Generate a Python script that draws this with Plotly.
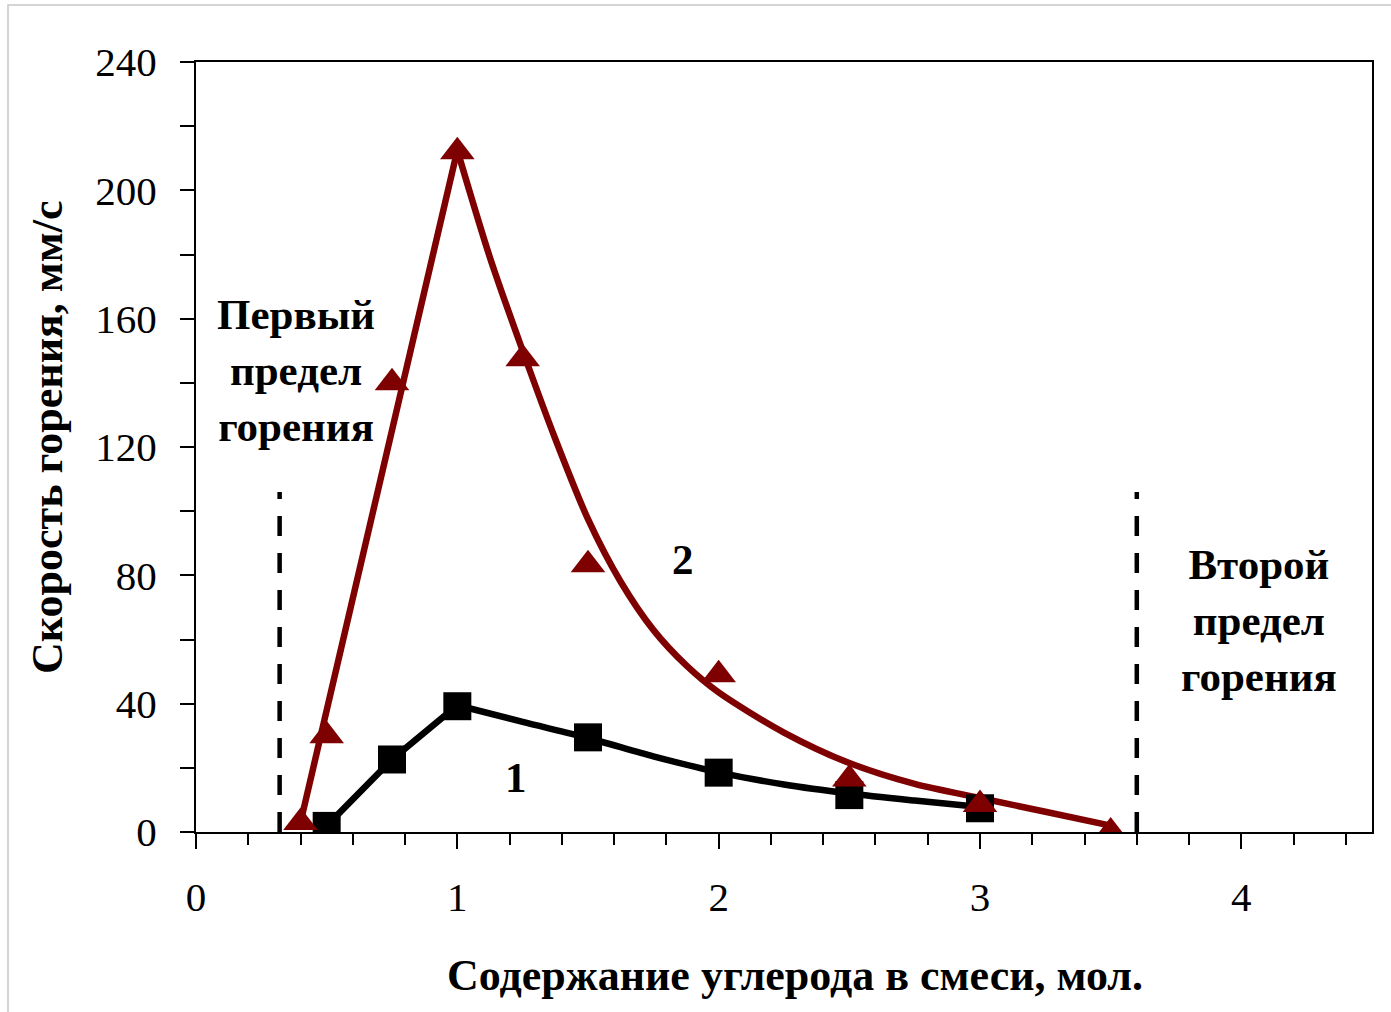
import plotly.graph_objects as go

# ---- data ----
x_sq = [0.5, 0.75, 1.0, 1.5, 2.0, 2.5, 3.0]
y_sq = [1.9, 22.6, 39.2, 29.5, 18.5, 11.5, 7.4]

x_tri = [0.4, 0.5, 0.75, 1.0, 1.25, 1.5, 2.0, 2.5, 3.0, 3.5]
y_tri = [3.0, 30.0, 140.0, 212.0, 147.5, 83.3, 49.0, 16.5, 8.6, 0.0]

# fitted curve 1 (black): rising part and decaying part
x_rise1 = [0.5, 0.75, 1.0]
y_rise1 = [1.9, 22.6, 39.5]
x_fall1 = [1.0, 1.25, 1.5, 1.75, 2.0, 2.25, 2.5, 2.75, 3.0]
y_fall1 = [39.5, 34.3, 29.3, 23.6, 18.6, 14.8, 12.0, 9.8, 7.8]

# fitted curve 2 (dark red): rising part and decaying part
x_rise2 = [0.4, 1.0]
y_rise2 = [3.0, 212.5]
x_fall2 = [1.0, 1.125, 1.25, 1.375, 1.5, 1.625, 1.75, 1.875, 2.0, 2.25, 2.5, 2.75, 3.0, 3.25, 3.5]
y_fall2 = [212.5, 179, 150, 122.5, 97.5, 78, 63, 52, 43.5, 31, 21.5, 15, 10.6, 6.3, 2.0]

limit_x = [0.32, 3.6]
limit_y_top = 106

x_tick_vals = [0, 1, 2, 3, 4]
y_tick_vals = [0, 40, 80, 120, 160, 200, 240]

DARKRED = "#7f0000"
SERIF = "Liberation Serif"

fig = go.Figure()

# dashed limit lines
for xv in limit_x:
    fig.add_trace(go.Scatter(x=[xv, xv], y=[0, limit_y_top], mode="lines",
                             line=dict(color="black", width=4.5, dash="20px,17px"),
                             hoverinfo="skip", showlegend=False))

# curves
fig.add_trace(go.Scatter(x=x_rise2, y=y_rise2, mode="lines",
                         line=dict(color=DARKRED, width=6.5), showlegend=False))
fig.add_trace(go.Scatter(x=x_fall2, y=y_fall2, mode="lines",
                         line=dict(color=DARKRED, width=6.5, shape="spline", smoothing=0.8),
                         showlegend=False))
fig.add_trace(go.Scatter(x=x_rise1, y=y_rise1, mode="lines",
                         line=dict(color="black", width=6.5), showlegend=False))
fig.add_trace(go.Scatter(x=x_fall1, y=y_fall1, mode="lines",
                         line=dict(color="black", width=6.5, shape="spline", smoothing=0.8),
                         showlegend=False))

# markers
fig.add_trace(go.Scatter(x=x_sq, y=y_sq, mode="markers",
                         marker=dict(symbol="square", size=28, color="black"),
                         showlegend=False))
fig.add_trace(go.Scatter(x=x_tri, y=y_tri, mode="markers",
                         marker=dict(symbol="triangle-up", size=30, color=DARKRED),
                         showlegend=False))

fig.update_xaxes(range=[0, 4.5], tickvals=x_tick_vals, ticks="outside", ticklen=15,
                 tickwidth=2, tickcolor="black",
                 minor=dict(dtick=0.2, tick0=0, ticks="outside", ticklen=11, tickwidth=2, tickcolor="black"),
                 showline=True, linecolor="black", linewidth=2, mirror=True,
                 showgrid=False, zeroline=False,
                 tickfont=dict(family=SERIF, size=41, color="black"),
                 ticklabelstandoff=13)
fig.update_yaxes(range=[0, 240], tickvals=y_tick_vals, ticks="outside", ticklen=14,
                 tickwidth=2, tickcolor="black",
                 minor=dict(dtick=20, tick0=0, ticks="outside", ticklen=14, tickwidth=2, tickcolor="black"),
                 showline=True, linecolor="black", linewidth=2, mirror=True,
                 showgrid=False, zeroline=False,
                 tickfont=dict(family=SERIF, size=41, color="black"),
                 ticklabelstandoff=15)

ann_font = dict(family=SERIF, size=43, color="black", weight="bold")
annotations = [
    dict(x=0.383, y=144, text="Первый<br>предел<br>горения", font=ann_font),
    dict(x=4.069, y=66, text="Второй<br>предел<br>горения", font=ann_font),
    dict(x=1.862, y=85, text="2", font=ann_font),
    dict(x=1.226, y=17, text="1", font=ann_font),
]
for a in annotations:
    fig.add_annotation(xref="x", yref="y", showarrow=False,
                       xanchor="center", yanchor="middle", **a)

fig.add_annotation(xref="paper", yref="paper", x=(795 - 196) / 1176, y=(832 - 975) / 770,
                   xanchor="center", yanchor="middle",
                   text="Содержание углерода в смеси, мол.", showarrow=False,
                   font=dict(family=SERIF, size=44, color="black", weight="bold"))
fig.add_annotation(xref="paper", yref="paper", x=(47 - 196) / 1176, y=(832 - 437) / 770,
                   xanchor="center", yanchor="middle",
                   text="Скорость горения, мм/с", showarrow=False, textangle=-90,
                   font=dict(family=SERIF, size=44, color="black", weight="bold"))

# light outer frame of the chart area
fig.add_shape(type="rect", xref="paper", yref="paper",
              x0=(8 - 196) / 1176, x1=(1420 - 196) / 1176,
              y0=(832 - 1040) / 770, y1=(832 - 5) / 770,
              line=dict(color="#c8c8c8", width=1.5), layer="below")

fig.update_layout(width=1391, height=1012,
                  margin=dict(l=196, r=19, t=62, b=180),
                  paper_bgcolor="white", plot_bgcolor="white",
                  showlegend=False)

fig.write_html("out.html")
